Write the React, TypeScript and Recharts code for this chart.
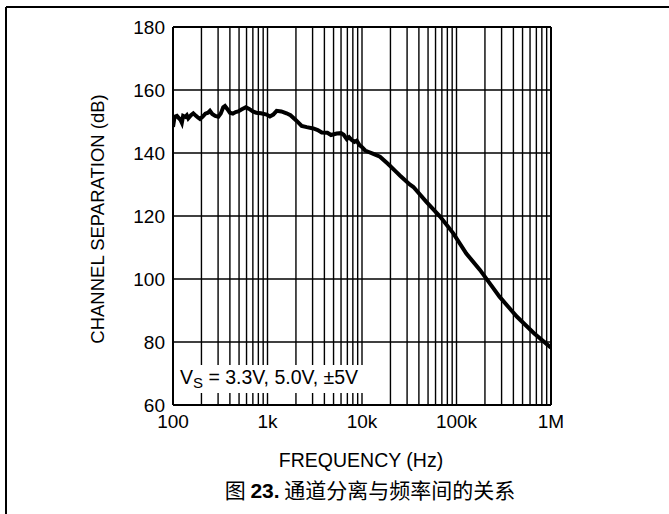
import React from 'react';
import { LineChart, Line, XAxis, YAxis, ReferenceLine } from 'recharts';

// frequency (Hz) and channel separation (dB)
const freqs = [
  100, 104, 110, 116, 120, 124, 128, 135, 140, 145, 155, 164, 175, 185, 193, 205, 220, 235, 246, 260,
  280, 302, 320, 340, 355, 375, 400, 430, 460, 490, 530, 590, 640, 700, 760, 850, 980, 1060, 1150, 1250,
  1400, 1590, 1750, 1950, 2100, 2300, 2600, 3050, 3400, 3750, 4300, 4700, 5400, 6000, 6400, 6900, 7300,
  7800, 8300, 8800, 9400, 9900, 10800, 11600, 13000, 15500, 18900, 23000, 25500, 32000, 35000, 48000,
  67000, 92500, 127000, 177000, 225000, 285000, 437000, 660000, 1000000,
];
const separation = [
  148.3, 151.5, 151.8, 151, 150.5, 149.6, 151.8, 151.5, 152, 151, 152, 152.6, 151.8, 151.2, 150.8, 151.5,
  152.5, 152.8, 153.4, 152.4, 151.8, 151.5, 152.5, 154.5, 154.9, 154, 152.8, 152.5, 153, 153.2, 153.8,
  154.5, 154, 153.2, 152.8, 152.6, 152.2, 151.6, 152.2, 153.4, 153.2, 152.6, 152, 150.7, 149.8, 148.6,
  148.2, 147.8, 147.3, 146.5, 146.4, 145.7, 146.2, 146.3, 145.8, 144.4, 145, 144.1, 143.5, 143.9, 142.5,
  142, 140.8, 140.4, 139.8, 138.8, 136.5, 134, 132.7, 130, 129.2, 124.5, 119.8, 114.5, 108.1, 102.9, 98.6,
  94.4, 88, 82.8, 78.2,
];

const xTicks = [100, 1000, 10000, 100000, 1000000];
const xTickLabels = ['100', '1k', '10k', '100k', '1M'];
const yTicks = [60, 80, 100, 120, 140, 160, 180];
const decades = [100, 1000, 10000, 100000];
const steps = [2, 3, 4, 5, 6, 7, 8, 9, 10];

const data = freqs.map((f, i) => ({ f, sep: separation[i] }));
const gridFreqs = decades.flatMap((d) => steps.map((s) => d * s)).filter((f) => f < 1000000);
const gridSeps = yTicks.filter((v) => v > 60 && v < 180);

const FONT = '"Liberation Sans", Arial, sans-serif';
const CJK = '"Noto Sans CJK SC", sans-serif';

export default function App() {
  return (
    <div
      style={{
        position: 'absolute',
        left: 0,
        top: 0,
        width: 669,
        height: 514,
        background: '#fff',
        fontFamily: FONT,
      }}
    >
      <LineChart width={669} height={514} data={data} margin={{ top: 27, right: 118, bottom: 0, left: 0 }}>
        <XAxis
          dataKey="f"
          type="number"
          scale="log"
          domain={[100, 1000000]}
          ticks={xTicks}
          tickFormatter={(v) => xTickLabels[xTicks.indexOf(v)] ?? ''}
          axisLine={false}
          tickLine={false}
          tickSize={0}
          tickMargin={10}
          height={109}
          allowDataOverflow
          tick={{ fill: '#000', fontSize: 19, fontFamily: FONT }}
        />
        <YAxis
          type="number"
          domain={[60, 180]}
          ticks={yTicks}
          axisLine={false}
          tickLine={false}
          tickSize={0}
          tickMargin={8}
          width={173}
          tick={{ fill: '#000', fontSize: 19, fontFamily: FONT }}
        />
        {gridFreqs.map((f) => (
          <ReferenceLine key={'v' + f} x={f} stroke="#000" strokeWidth={1.4} />
        ))}
        {gridSeps.map((v) => (
          <ReferenceLine key={'h' + v} y={v} stroke="#000" strokeWidth={1.4} />
        ))}
        <ReferenceLine x={100} stroke="#000" strokeWidth={2} />
        <ReferenceLine x={1000000} stroke="#000" strokeWidth={2} />
        <ReferenceLine y={60} stroke="#000" strokeWidth={2} />
        <ReferenceLine y={180} stroke="#000" strokeWidth={2} />
        <Line
          dataKey="sep"
          type="linear"
          stroke="#000"
          strokeWidth={4}
          dot={false}
          isAnimationActive={false}
        />
      </LineChart>

      {/* page frame, legend box and titles */}
      <svg
        width={669}
        height={514}
        style={{ position: 'absolute', left: 0, top: 0, pointerEvents: 'none' }}
      >
        <line x1={6} y1={7} x2={669} y2={7} stroke="#000" strokeWidth={2} />
        <line x1={6} y1={7} x2={6} y2={514} stroke="#000" strokeWidth={2} />
        <rect x={174} y={365} width={190} height={28} fill="#fff" />
        <text x={180} y={384} fontSize={19.5} fontFamily={FONT} fill="#000">
          V<tspan fontSize={15} dy={4}>S</tspan>
          <tspan dy={-4}> = 3.3V, 5.0V, ±5V</tspan>
        </text>
        <text
          x={104}
          y={219}
          transform="rotate(-90 104 219)"
          textAnchor="middle"
          fontSize={18.5}
          fontFamily={FONT}
          fill="#000"
        >
          CHANNEL SEPARATION (dB)
        </text>
        <text x={361} y={467} textAnchor="middle" fontSize={19.5} fontFamily={FONT} fill="#000">
          FREQUENCY (Hz)
        </text>
        <text x={370} y={498} textAnchor="middle" fontSize={21} fontFamily={CJK} fill="#000">
          图 <tspan fontFamily={FONT} fontWeight="bold">23.</tspan> 通道分离与频率间的关系
        </text>
      </svg>
    </div>
  );
}
